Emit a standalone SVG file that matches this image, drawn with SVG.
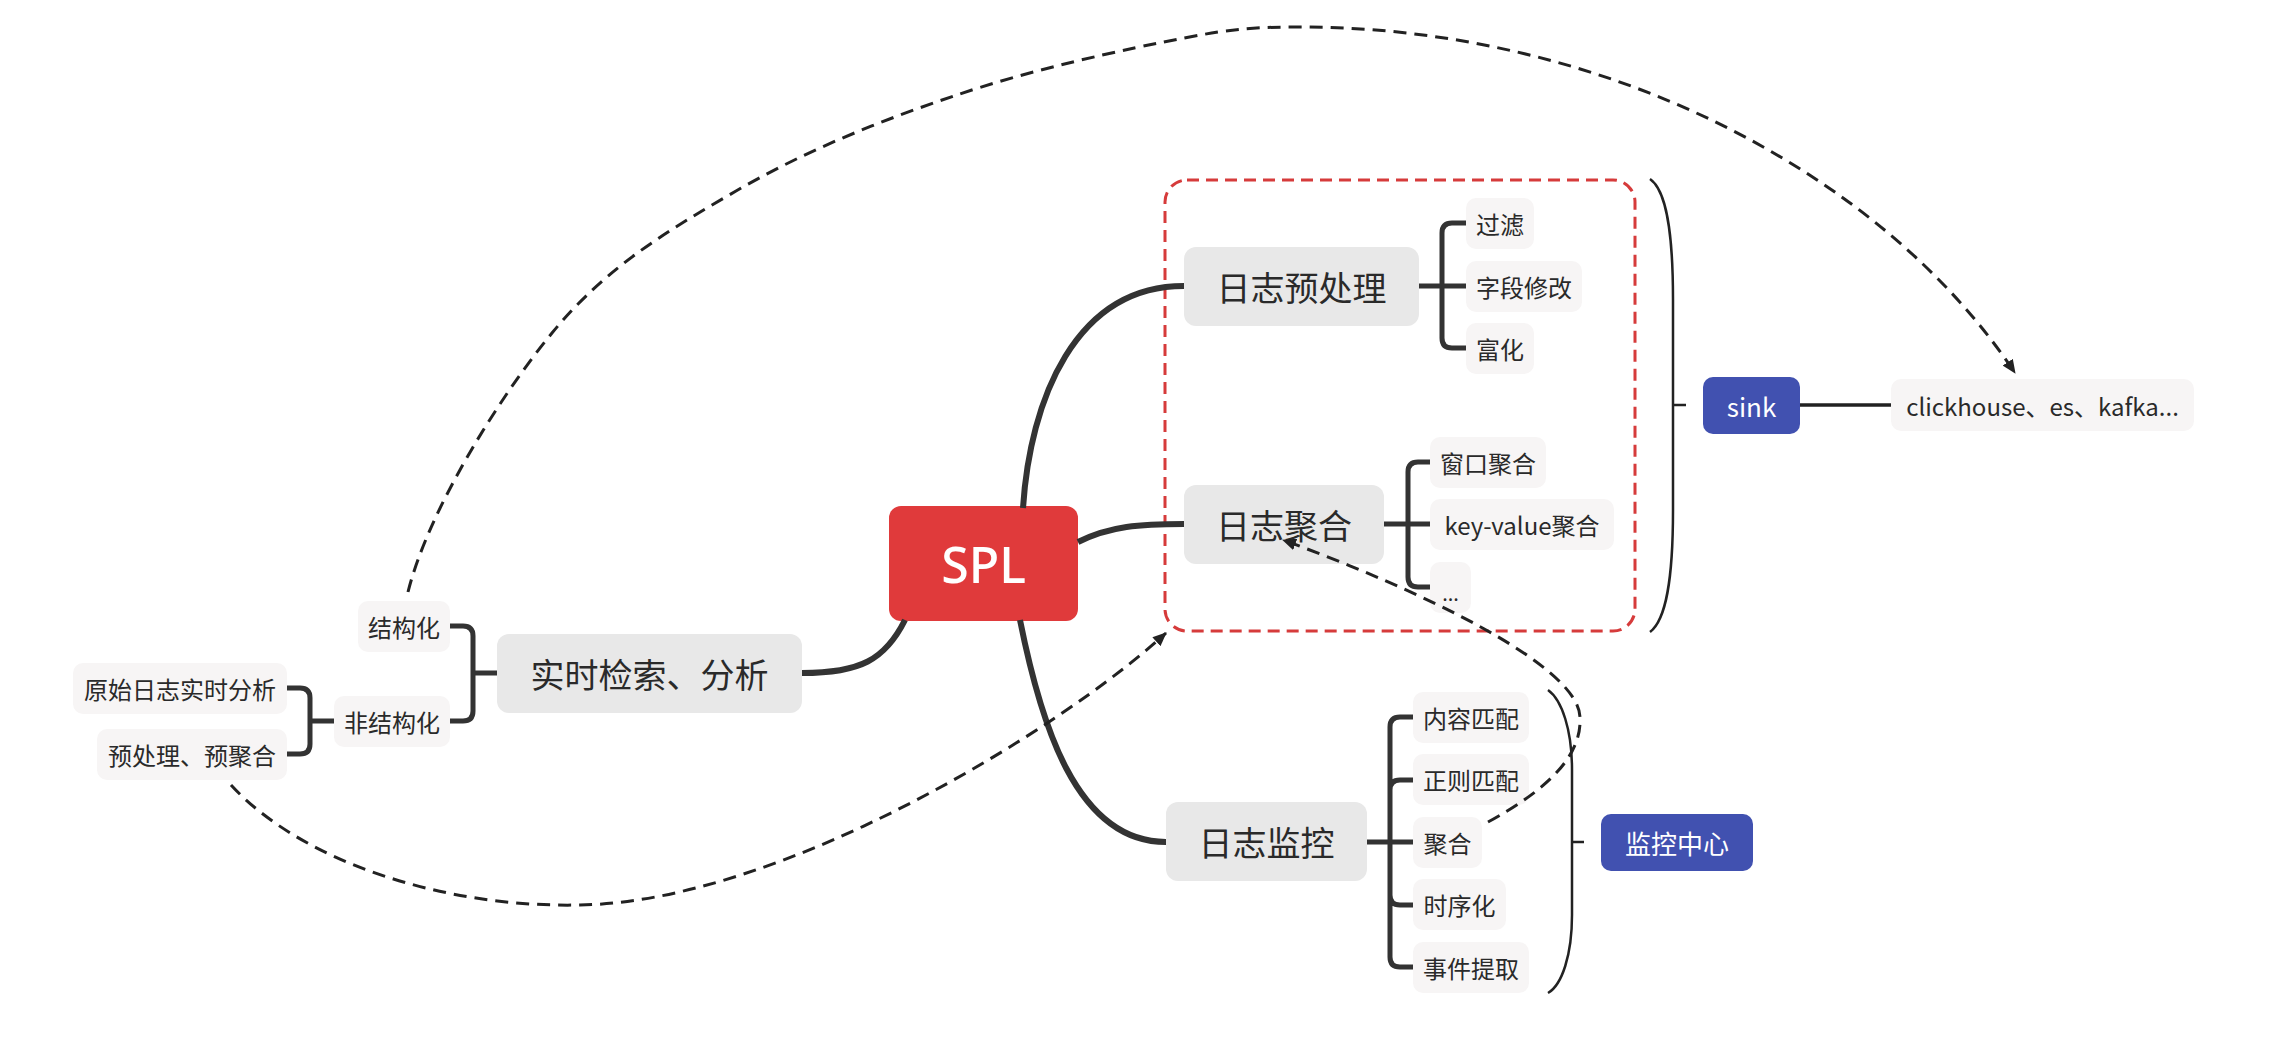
<svg xmlns="http://www.w3.org/2000/svg" width="2282" height="1054" viewBox="0 0 2282 1054">
<defs>
<style>
text { font-family: "Noto Sans CJK SC", "Noto Sans", sans-serif; fill: #2a2a2a; text-anchor: middle; dominant-baseline: central; }
.root rect { fill: #e03a3b; }
.root text { fill: #fff; font-family: "Noto Sans", "Noto Sans CJK SC", sans-serif; font-size: 50px; font-weight: 500; }
.topic rect { fill: #e8e8e8; }
.topic text { font-size: 34px; }
.sub rect { fill: #f7f5f5; }
.sub text { font-size: 24px; }
.blue rect { fill: #4151b0; }
.blue text { fill: #fff; font-size: 26px; }
.branch { fill: none; stroke: #333; stroke-width: 6; }
.bracket { fill: none; stroke: #333; stroke-width: 5; }
.paren { fill: none; stroke: #222; stroke-width: 2.5; }
.link { fill: none; stroke: #222; stroke-width: 3; stroke-dasharray: 13 8; }
.frame { fill: none; stroke: #d63b3b; stroke-width: 3; stroke-dasharray: 12 7; }
</style>
<marker id="arrow" viewBox="0 0 14 12" refX="13" refY="6" markerWidth="14" markerHeight="12" markerUnits="userSpaceOnUse" orient="auto">
<path d="M0,0 L14,6 L0,12 Z" fill="#222"/>
</marker>
</defs>
<rect width="2282" height="1054" fill="#fff"/>

<g id="frame">
<rect class="frame" x="1165" y="180" width="470" height="451" rx="22"/>
</g>

<g id="n-spl" class="root"><rect x="889" y="506" width="189" height="115" rx="12"/><text x="983.5" y="563.5">SPL</text></g>

<g id="n-preproc" class="topic"><rect x="1184" y="247" width="235" height="79" rx="12"/><text x="1301.5" y="286.5">日志预处理</text></g>
<g id="n-agg" class="topic"><rect x="1184" y="485" width="200" height="79" rx="12"/><text x="1284" y="524.5">日志聚合</text></g>
<g id="n-monitor" class="topic"><rect x="1166" y="802" width="201" height="79" rx="12"/><text x="1266.5" y="841.5">日志监控</text></g>
<g id="n-search" class="topic"><rect x="497" y="634" width="305" height="79" rx="12"/><text x="649.5" y="673.5">实时检索、分析</text></g>

<g id="n-filter" class="sub"><rect x="1466" y="198" width="68" height="51" rx="10"/><text x="1500" y="223.5">过滤</text></g>
<g id="n-field" class="sub"><rect x="1466" y="261" width="116" height="51" rx="10"/><text x="1524" y="286.5">字段修改</text></g>
<g id="n-enrich" class="sub"><rect x="1466" y="323" width="68" height="51" rx="10"/><text x="1500" y="348.5">富化</text></g>

<g id="n-window" class="sub"><rect x="1430" y="437" width="116" height="51" rx="10"/><text x="1488" y="462.5">窗口聚合</text></g>
<g id="n-kv" class="sub"><rect x="1430" y="499" width="184" height="51" rx="10"/><text x="1522" y="524.5">key-value聚合</text></g>
<g id="n-more" class="sub"><rect x="1430" y="562" width="41" height="51" rx="10"/><text x="1450.5" y="592" style="font-size:20px">...</text></g>

<g id="n-content" class="sub"><rect x="1413" y="692" width="116" height="51" rx="10"/><text x="1471" y="717.5">内容匹配</text></g>
<g id="n-regex" class="sub"><rect x="1413" y="754" width="116" height="51" rx="10"/><text x="1471" y="779.5">正则匹配</text></g>
<g id="n-magg" class="sub"><rect x="1413" y="817" width="69" height="51" rx="10"/><text x="1447.5" y="842.5">聚合</text></g>
<g id="n-ts" class="sub"><rect x="1413" y="879" width="93" height="51" rx="10"/><text x="1459.5" y="904.5">时序化</text></g>
<g id="n-event" class="sub"><rect x="1413" y="942" width="116" height="51" rx="10"/><text x="1471" y="967.5">事件提取</text></g>

<g id="n-struct" class="sub"><rect x="358" y="601" width="92" height="51" rx="10"/><text x="404" y="626.5">结构化</text></g>
<g id="n-unstruct" class="sub"><rect x="334" y="696" width="116" height="51" rx="10"/><text x="392" y="721.5">非结构化</text></g>
<g id="n-raw" class="sub"><rect x="73" y="663" width="214" height="51" rx="10"/><text x="180" y="688.5">原始日志实时分析</text></g>
<g id="n-pre" class="sub"><rect x="97" y="729" width="190" height="51" rx="10"/><text x="192" y="754.5">预处理、预聚合</text></g>

<g id="n-sink" class="blue"><rect x="1703" y="377" width="97" height="57" rx="10"/><text x="1751.5" y="405.5">sink</text></g>
<g id="n-center" class="blue"><rect x="1601" y="814" width="152" height="57" rx="10"/><text x="1677" y="842.5">监控中心</text></g>
<g id="n-clickhouse" class="sub"><rect x="1891" y="379" width="303" height="52" rx="10"/><text x="2042.5" y="405">clickhouse、es、kafka...</text></g>

<g id="connectors">
<path class="branch" d="M1023,508 C1030,400 1075,286 1184,286"/>
<path class="branch" d="M1078,542 C1110,526 1140,524 1184,524"/>
<path class="branch" d="M1020,620 C1040,720 1075,842 1166,842"/>
<path class="branch" d="M905,620 C885,660 860,673 802,673"/>

<path class="bracket" d="M1419,286 H1466 M1442,286 V233 Q1442,223 1452,223 H1466 M1442,286 V338 Q1442,348 1452,348 H1466"/>
<path class="bracket" d="M1384,524 H1430 M1408,524 V472 Q1408,462 1418,462 H1430 M1408,524 V577 Q1408,587 1418,587 H1430"/>
<path class="bracket" d="M1367,842 H1413 M1390,842 V727 Q1390,717 1400,717 H1413 M1390,842 V790 Q1390,780 1400,780 H1413 M1390,842 V895 Q1390,905 1400,905 H1413 M1390,842 V957 Q1390,967 1400,967 H1413"/>
<path class="bracket" d="M497,673 H473 M473,673 V636 Q473,626 463,626 H450 M473,673 V711 Q473,721 463,721 H450"/>
<path class="bracket" d="M334,721 H310 M310,721 V698 Q310,688 300,688 H287 M310,721 V744 Q310,754 300,754 H287"/>

<path class="paren" d="M1650,179 C1666,190 1673,230 1673,300 V510 C1673,580 1666,620 1650,632 M1673,405 H1686"/>
<path class="paren" d="M1548,690 C1562,700 1572,730 1572,770 V915 C1572,955 1562,985 1548,993 M1572,842 H1584"/>
<path class="paren" style="stroke-width:3.5" d="M1800,405 H1891"/>

<path class="link" marker-end="url(#arrow)" d="M408,592 C428,512 497,400 552,333 C607,266 669,230 736,191 C803,152 879,121 954,96 C1029,70 1126,49 1184,38 C1235,28 1261,27 1300,27 C1600,27 1880,170 2015,373"/>
<path class="link" marker-end="url(#arrow)" d="M231,785 C300,860 440,908 580,905 C780,902 1060,730 1166,633"/>
<path class="link" marker-end="url(#arrow)" d="M1488,822 C1550,788 1582,755 1580,717 C1578,665 1420,590 1283,540"/>
</g>
</svg>
